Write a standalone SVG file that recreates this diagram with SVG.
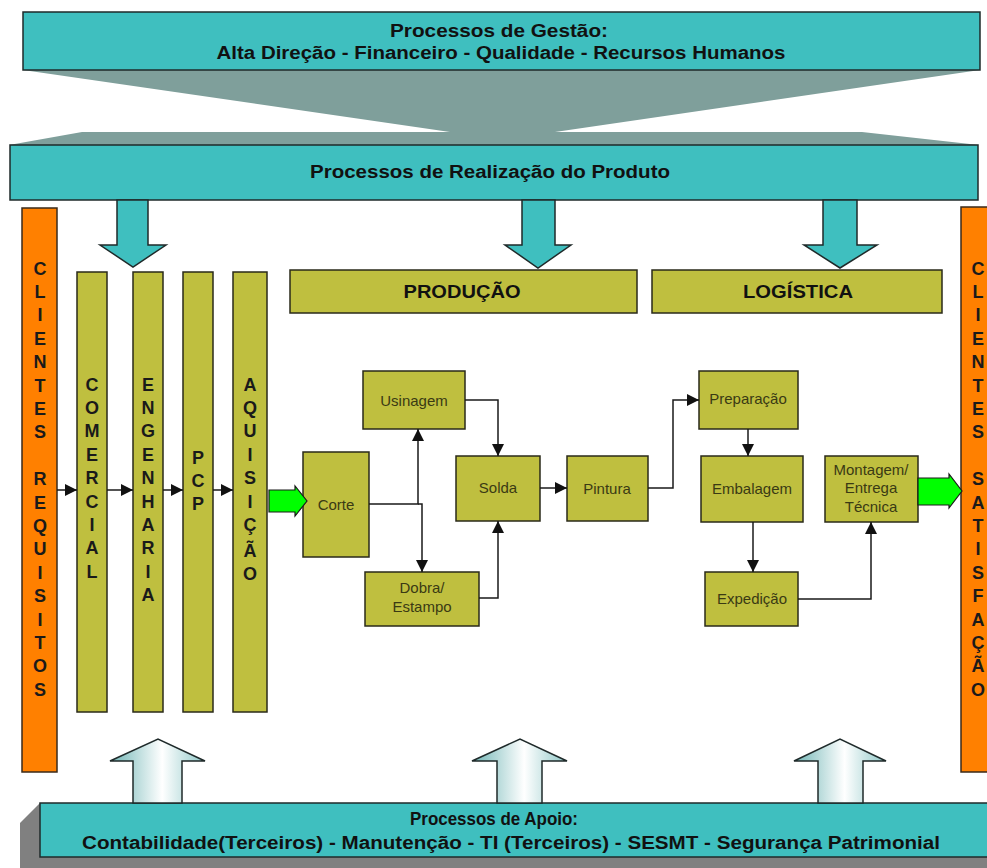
<svg xmlns="http://www.w3.org/2000/svg" width="987" height="868" viewBox="0 0 987 868">
<defs>
<style>
.teal{fill:#3fbfbf;stroke:#1f2a2a;stroke-width:1.5}
.olive{fill:#bfbf3f;stroke:#2a2a1a;stroke-width:1.5}
.orange{fill:#ff8000;stroke:#3a2a1a;stroke-width:1.5}
.green{fill:#00ff00;stroke:#1a1a1a;stroke-width:1.2}
.hdr{font-family:"Liberation Sans",Arial,sans-serif;font-weight:bold;font-size:18px;fill:#111;text-anchor:middle}
.col{font-family:"Liberation Sans",Arial,sans-serif;font-weight:bold;font-size:18px;fill:#1a1a1a;text-anchor:middle}
.lbl{font-family:"Liberation Sans",Arial,sans-serif;font-size:15px;fill:#3a3a14;text-anchor:middle}
.conn{fill:none;stroke:#1a1a1a;stroke-width:1.5}
.up{fill:url(#upg);stroke:#1f2a2a;stroke-width:1.5}
</style>
<marker id="ah" markerUnits="userSpaceOnUse" markerWidth="12" markerHeight="12" refX="12" refY="6" orient="auto">
<path d="M0,0 L12,6 L0,12 z" fill="#111"/>
</marker>
<linearGradient id="upg" x1="0" y1="0" x2="1" y2="0">
<stop offset="0" stop-color="#6fb5b5"/>
<stop offset="0.55" stop-color="#ffffff"/>
<stop offset="1" stop-color="#8fc8c8"/>
</linearGradient>
</defs>
<rect width="987" height="868" fill="#ffffff"/>

<g id="funnel">
<polygon points="23,70 980,70 555,132 450,132" fill="#7f9f9b"/>
<polygon points="82,132 862,132 979,145 9,145" fill="#7f9f9b"/>
</g>

<g id="gestao">
<rect class="teal" x="23" y="12" width="957" height="58"/>
<text class="hdr" x="499" y="37" textLength="218" lengthAdjust="spacingAndGlyphs">Processos de Gestão:</text>
<text class="hdr" x="501" y="59" textLength="569" lengthAdjust="spacingAndGlyphs">Alta Direção - Financeiro - Qualidade - Recursos Humanos</text>
</g>

<g id="realizacao">
<rect class="teal" x="10" y="145" width="968" height="55"/>
<text class="hdr" x="490" y="178" textLength="360" lengthAdjust="spacingAndGlyphs">Processos de Realização do Produto</text>
</g>

<g id="down-arrows">
<polygon class="teal" points="117,200 148,200 148,245 166,245 133,267 100,245 117,245"/>
<polygon class="teal" points="522,200 555,200 555,245 571,245 538,268 505,245 522,245"/>
<polygon class="teal" points="823,200 857,200 857,245 877,245 840,268 804,245 823,245"/>
</g>

<g id="clientes-requisitos">
<rect class="orange" x="22" y="208" width="35" height="564"/>
<text class="col"><tspan x="40" y="274.5">C</tspan><tspan x="40" dy="23.4">L</tspan><tspan x="40" dy="23.4">I</tspan><tspan x="40" dy="23.4">E</tspan><tspan x="40" dy="23.4">N</tspan><tspan x="40" dy="23.4">T</tspan><tspan x="40" dy="23.4">E</tspan><tspan x="40" dy="23.4">S</tspan><tspan x="40" dy="46.8">R</tspan><tspan x="40" dy="23.4">E</tspan><tspan x="40" dy="23.4">Q</tspan><tspan x="40" dy="23.4">U</tspan><tspan x="40" dy="23.4">I</tspan><tspan x="40" dy="23.4">S</tspan><tspan x="40" dy="23.4">I</tspan><tspan x="40" dy="23.4">T</tspan><tspan x="40" dy="23.4">O</tspan><tspan x="40" dy="23.4">S</tspan></text>
</g>

<g id="clientes-satisfacao">
<rect class="orange" x="961" y="207" width="40" height="565"/>
<text class="col"><tspan x="978" y="274.5">C</tspan><tspan x="978" dy="23.4">L</tspan><tspan x="978" dy="23.4">I</tspan><tspan x="978" dy="23.4">E</tspan><tspan x="978" dy="23.4">N</tspan><tspan x="978" dy="23.4">T</tspan><tspan x="978" dy="23.4">E</tspan><tspan x="978" dy="23.4">S</tspan><tspan x="978" dy="46.8">S</tspan><tspan x="978" dy="23.4">A</tspan><tspan x="978" dy="23.4">T</tspan><tspan x="978" dy="23.4">I</tspan><tspan x="978" dy="23.4">S</tspan><tspan x="978" dy="23.4">F</tspan><tspan x="978" dy="23.4">A</tspan><tspan x="978" dy="23.4">Ç</tspan><tspan x="978" dy="23.4">Ã</tspan><tspan x="978" dy="23.4">O</tspan></text>
</g>

<g id="comercial">
<rect class="olive" x="77" y="272" width="30" height="440"/>
<text class="col"><tspan x="92" y="390.5">C</tspan><tspan x="92" dy="23.4">O</tspan><tspan x="92" dy="23.4">M</tspan><tspan x="92" dy="23.4">E</tspan><tspan x="92" dy="23.4">R</tspan><tspan x="92" dy="23.4">C</tspan><tspan x="92" dy="23.4">I</tspan><tspan x="92" dy="23.4">A</tspan><tspan x="92" dy="23.4">L</tspan></text>
</g>

<g id="engenharia">
<rect class="olive" x="133" y="272" width="30" height="440"/>
<text class="col"><tspan x="148" y="390.5">E</tspan><tspan x="148" dy="23.4">N</tspan><tspan x="148" dy="23.4">G</tspan><tspan x="148" dy="23.4">E</tspan><tspan x="148" dy="23.4">N</tspan><tspan x="148" dy="23.4">H</tspan><tspan x="148" dy="23.4">A</tspan><tspan x="148" dy="23.4">R</tspan><tspan x="148" dy="23.4">I</tspan><tspan x="148" dy="23.4">A</tspan></text>
</g>

<g id="pcp">
<rect class="olive" x="183" y="272" width="30" height="440"/>
<text class="col"><tspan x="198" y="463.5">P</tspan><tspan x="198" dy="23.4">C</tspan><tspan x="198" dy="23.4">P</tspan></text>
</g>

<g id="aquisicao">
<rect class="olive" x="233" y="272" width="34" height="440"/>
<text class="col"><tspan x="250" y="390.5">A</tspan><tspan x="250" dy="23.4">Q</tspan><tspan x="250" dy="23.4">U</tspan><tspan x="250" dy="23.4">I</tspan><tspan x="250" dy="23.4">S</tspan><tspan x="250" dy="23.4">I</tspan><tspan x="250" dy="23.4">Ç</tspan><tspan x="250" dy="26">Ã</tspan><tspan x="250" dy="23.4">O</tspan></text>
</g>

<g id="producao">
<rect class="olive" x="290" y="270" width="347" height="43"/>
<text class="hdr" x="462" y="298" textLength="117" lengthAdjust="spacingAndGlyphs">PRODUÇÃO</text>
</g>

<g id="logistica">
<rect class="olive" x="652" y="270" width="290" height="43"/>
<text class="hdr" x="798" y="298" textLength="110" lengthAdjust="spacingAndGlyphs">LOGÍSTICA</text>
</g>

<g id="corte">
<rect class="olive" x="303" y="452" width="66" height="105"/>
<text class="lbl" x="336" y="510">Corte</text>
</g>
<g id="usinagem">
<rect class="olive" x="363" y="371" width="102" height="58"/>
<text class="lbl" x="414" y="406">Usinagem</text>
</g>
<g id="solda">
<rect class="olive" x="456" y="456" width="84" height="65"/>
<text class="lbl" x="498" y="493">Solda</text>
</g>
<g id="pintura">
<rect class="olive" x="567" y="456" width="81" height="65"/>
<text class="lbl" x="607" y="494">Pintura</text>
</g>
<g id="dobra">
<rect class="olive" x="365" y="572" width="114" height="54"/>
<text class="lbl" x="422" y="593">Dobra/</text>
<text class="lbl" x="422" y="612">Estampo</text>
</g>
<g id="preparacao">
<rect class="olive" x="699" y="371" width="99" height="58"/>
<text class="lbl" x="748" y="404">Preparação</text>
</g>
<g id="embalagem">
<rect class="olive" x="701" y="456" width="102" height="66"/>
<text class="lbl" x="752" y="494">Embalagem</text>
</g>
<g id="expedicao">
<rect class="olive" x="705" y="572" width="93" height="54"/>
<text class="lbl" x="752" y="604">Expedição</text>
</g>
<g id="montagem">
<rect class="olive" x="825" y="456" width="93" height="66"/>
<text class="lbl" x="871" y="475">Montagem/</text>
<text class="lbl" x="871" y="493">Entrega</text>
<text class="lbl" x="871" y="512">Técnica</text>
</g>

<g id="apoio">
<polygon points="20,823 40,803 40,868 20,868" fill="#808080"/>
<rect x="20" y="857" width="967" height="11" fill="#808080"/>
<rect class="teal" x="40" y="803" width="960" height="54"/>
<text class="hdr" x="494" y="825" textLength="168" lengthAdjust="spacingAndGlyphs">Processos de Apoio:</text>
<text class="hdr" x="511" y="849" textLength="858" lengthAdjust="spacingAndGlyphs">Contabilidade(Terceiros) - Manutenção - TI (Terceiros) - SESMT - Segurança Patrimonial</text>
</g>

<g id="up-arrows">
<polygon class="up" points="133,803 133,761 110,761 158,739 205,761 182,761 182,803"/>
<polygon class="up" points="497,803 497,761 472,761 520,739 567,761 542,761 542,803"/>
<polygon class="up" points="818,803 818,761 794,761 840,739 886,761 863,761 863,803"/>
</g>

<g id="connectors">
<line class="conn" x1="57" y1="490" x2="77" y2="490" marker-end="url(#ah)"/>
<line class="conn" x1="107" y1="490" x2="133" y2="490" marker-end="url(#ah)"/>
<line class="conn" x1="163" y1="490" x2="183" y2="490" marker-end="url(#ah)"/>
<line class="conn" x1="213" y1="490" x2="233" y2="490" marker-end="url(#ah)"/>
<polygon class="green" points="269,490 295,490 295,486 307,501 295,516 295,512 269,512"/>
<path class="conn" d="M369,504 H418 V429" marker-end="url(#ah)"/>
<path class="conn" d="M418,504 H422 V572" marker-end="url(#ah)"/>
<path class="conn" d="M465,400 H498 V456" marker-end="url(#ah)"/>
<path class="conn" d="M479,598 H498 V521" marker-end="url(#ah)"/>
<line class="conn" x1="540" y1="488" x2="567" y2="488" marker-end="url(#ah)"/>
<path class="conn" d="M648,488 H673 V400 H699" marker-end="url(#ah)"/>
<line class="conn" x1="748" y1="429" x2="748" y2="456" marker-end="url(#ah)"/>
<line class="conn" x1="753" y1="522" x2="753" y2="572" marker-end="url(#ah)"/>
<path class="conn" d="M798,599 H871 V522" marker-end="url(#ah)"/>
<polygon class="green" points="918,478 949,478 949,474 962,491 949,508 949,505 918,505"/>
</g>
</svg>
